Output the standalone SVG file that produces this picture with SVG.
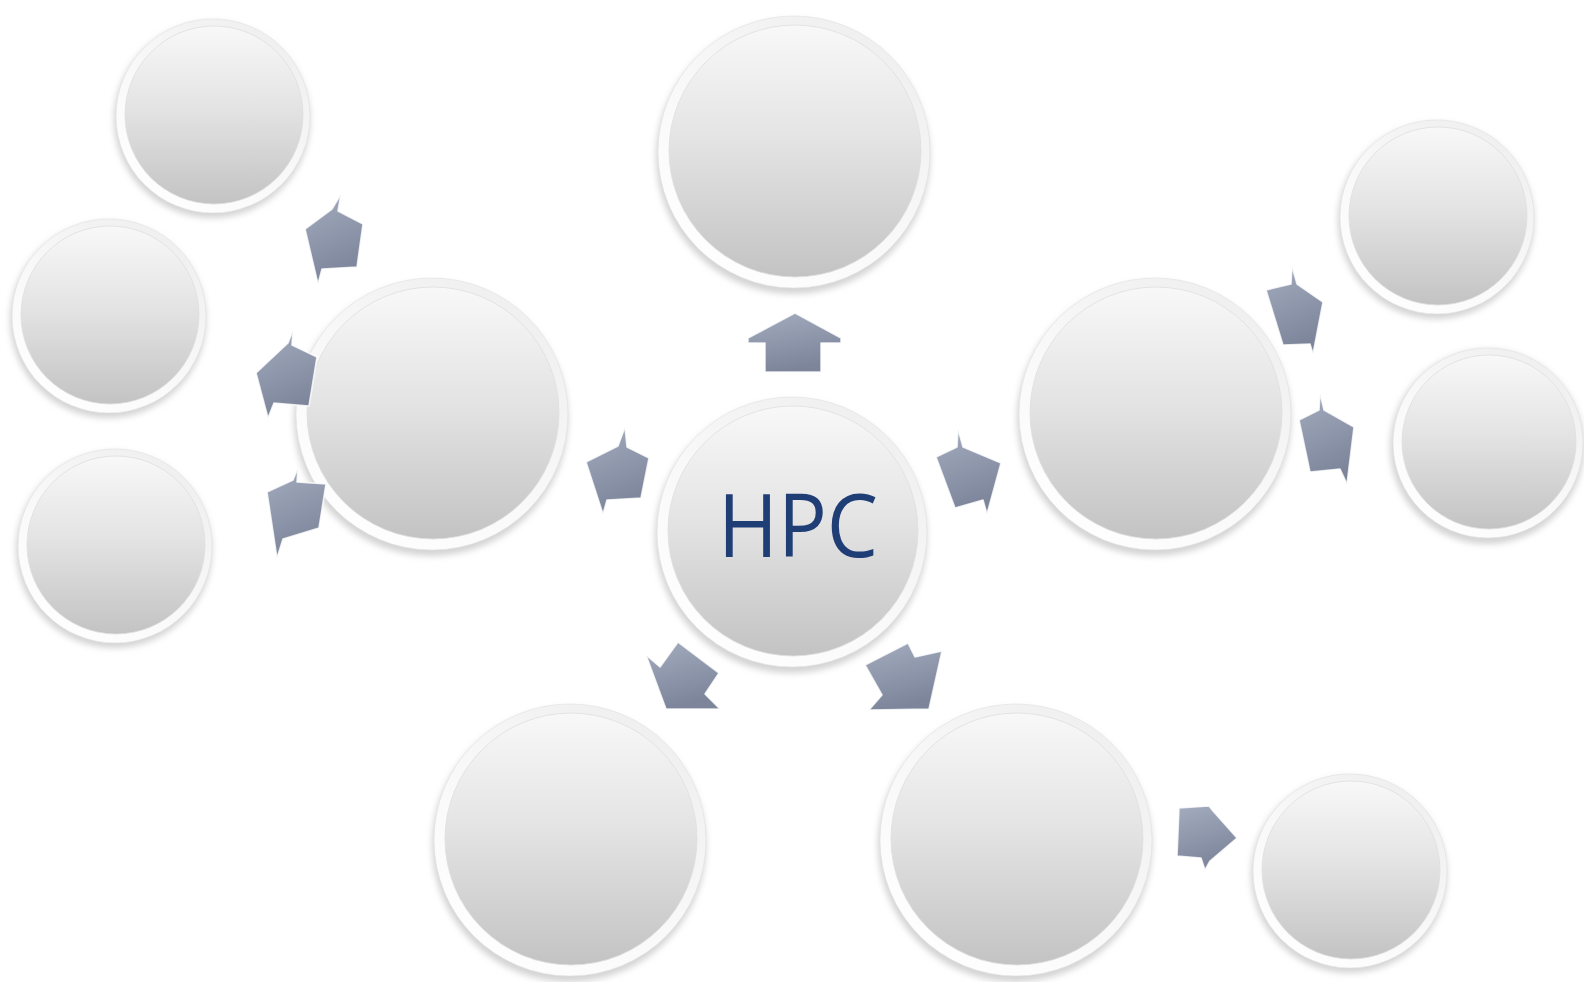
<svg xmlns="http://www.w3.org/2000/svg" width="1584" height="982" viewBox="0 0 1584 982">
<defs>
<linearGradient id="rim" x1="0.85" y1="0" x2="0.15" y2="1">
<stop offset="0" stop-color="#eeeeee"/>
<stop offset="0.5" stop-color="#f8f8f8"/>
<stop offset="1" stop-color="#ffffff"/>
</linearGradient>
<linearGradient id="disc" x1="0" y1="0" x2="0" y2="1">
<stop offset="0" stop-color="#f8f8f8"/>
<stop offset="0.45" stop-color="#e4e4e4"/>
<stop offset="1" stop-color="#c3c3c3"/>
</linearGradient>
<linearGradient id="arrG" x1="0" y1="0" x2="0.3" y2="1">
<stop offset="0" stop-color="#a4acbf"/>
<stop offset="1" stop-color="#7c859a"/>
</linearGradient>
<filter id="cs" x="-20%" y="-20%" width="140%" height="140%">
<feGaussianBlur stdDeviation="3"/>
</filter>
</defs>
<style>
.sh{fill:#a8a8a8;opacity:0.5;filter:url(#cs)}
.rim{fill:url(#rim);stroke:#e0e0e0;stroke-width:0.6}
.disc{fill:url(#disc);stroke:#dedede;stroke-width:0.8}
.arr{fill:url(#arrG);stroke:#ffffff;stroke-width:1.6;stroke-opacity:0.8;stroke-linejoin:round}
.lbl{font-family:"Open Sans","Noto Sans",sans-serif;font-size:88px;fill:#203e76}
</style>
<rect width="1584" height="982" fill="#ffffff"/>

<g id="node-a">
<circle class="sh" cx="212" cy="120" r="98"/>
<circle class="rim" cx="213" cy="116" r="97"/>
<circle class="disc" cx="214" cy="115" r="89"/>
</g>
<g id="node-b">
<circle class="sh" cx="108" cy="320" r="98"/>
<circle class="rim" cx="109" cy="316" r="97"/>
<circle class="disc" cx="110" cy="315" r="89"/>
</g>
<g id="node-c">
<circle class="sh" cx="114" cy="550" r="98"/>
<circle class="rim" cx="115" cy="546" r="97"/>
<circle class="disc" cx="116" cy="545" r="89"/>
</g>
<g id="node-d">
<circle class="sh" cx="431" cy="419" r="137"/>
<circle class="rim" cx="432" cy="414" r="136"/>
<circle class="disc" cx="433" cy="413" r="126"/>
</g>
<g id="node-e">
<circle class="sh" cx="793" cy="157" r="137"/>
<circle class="rim" cx="794" cy="152" r="136"/>
<circle class="disc" cx="795" cy="151" r="126"/>
</g>
<g id="node-hpc">
<circle class="sh" cx="791" cy="537" r="136"/>
<circle class="rim" cx="792" cy="532" r="135"/>
<circle class="disc" cx="793" cy="531" r="125"/>
<text class="lbl" x="798" y="557" text-anchor="middle" textLength="160" lengthAdjust="spacingAndGlyphs">HPC</text>
</g>
<g id="node-g">
<circle class="sh" cx="1154" cy="419" r="137"/>
<circle class="rim" cx="1155" cy="414" r="136"/>
<circle class="disc" cx="1156" cy="413" r="126"/>
</g>
<g id="node-h">
<circle class="sh" cx="1436" cy="221" r="98"/>
<circle class="rim" cx="1437" cy="217" r="97"/>
<circle class="disc" cx="1438" cy="216" r="89"/>
</g>
<g id="node-i">
<circle class="sh" cx="1487" cy="447" r="97"/>
<circle class="rim" cx="1488" cy="443" r="95"/>
<circle class="disc" cx="1489" cy="442" r="87"/>
</g>
<g id="node-j">
<circle class="sh" cx="569" cy="845" r="137"/>
<circle class="rim" cx="570" cy="840" r="136"/>
<circle class="disc" cx="571" cy="839" r="126"/>
</g>
<g id="node-k">
<circle class="sh" cx="1015" cy="845" r="137"/>
<circle class="rim" cx="1016" cy="840" r="136"/>
<circle class="disc" cx="1017" cy="839" r="126"/>
</g>
<g id="node-l">
<circle class="sh" cx="1349" cy="875" r="98"/>
<circle class="rim" cx="1350" cy="871" r="97"/>
<circle class="disc" cx="1351" cy="870" r="89"/>
</g>

<g id="connectors">
<g id="arrow-up">
<path class="arr" d="M795,313 L841,338 L841,343 L821,343 L821,372 L765,372 L765,343 L748,343 L748,338 Z"/>
</g>
<g id="arrow-left">
<path class="arr" d="M586,462 L618,446 L625,427 L627,447 L649,458 L641,498 L607,500 L603,514 Z"/>
</g>
<g id="arrow-right">
<path class="arr" d="M936,457 L957,447 L958,429 L963,447 L1001,463 L987,514 L983,500 L955,508 Z"/>
</g>
<g id="arrow-downleft">
<path class="arr" d="M646,655 L660,667 L678,642 L719,673 L705,694 L720,709 L666,709 Z"/>
</g>
<g id="arrow-downright">
<path class="arr" d="M865,665 L908,643 L915,657 L942,651 L929,709 L869,710 L882,695 Z"/>
</g>
<g id="arrow-d-a">
<path class="arr" d="M305,229 L332,209 L341,194 L338,211 L363,224 L357,267 L322,269 L318,284 Z"/>
</g>
<g id="arrow-d-b">
<path class="arr" d="M256,373 L288,343 L293,330 L292,345 L317,357 L309,406 L274,403 L268,418 Z"/>
</g>
<g id="arrow-d-c">
<path class="arr" d="M267,492 L293,480 L298,468 L297,482 L326,484 L319,528 L283,539 L277,558 Z"/>
</g>
<g id="arrow-g-h">
<path class="arr" d="M1266,290 L1291,284 L1292,266 L1297,284 L1323,302 L1313,354 L1310,344 L1283,345 Z"/>
</g>
<g id="arrow-g-i">
<path class="arr" d="M1299,420 L1319,410 L1320,393 L1324,410 L1354,427 L1347,484 L1340,469 L1310,472 Z"/>
</g>
<g id="arrow-k-l">
<path class="arr" d="M1179,808 L1209,806 L1213,811 L1237,838 L1210,861 L1205,870 L1201,858 L1177,856 Z"/>
</g>
</g>
</svg>
